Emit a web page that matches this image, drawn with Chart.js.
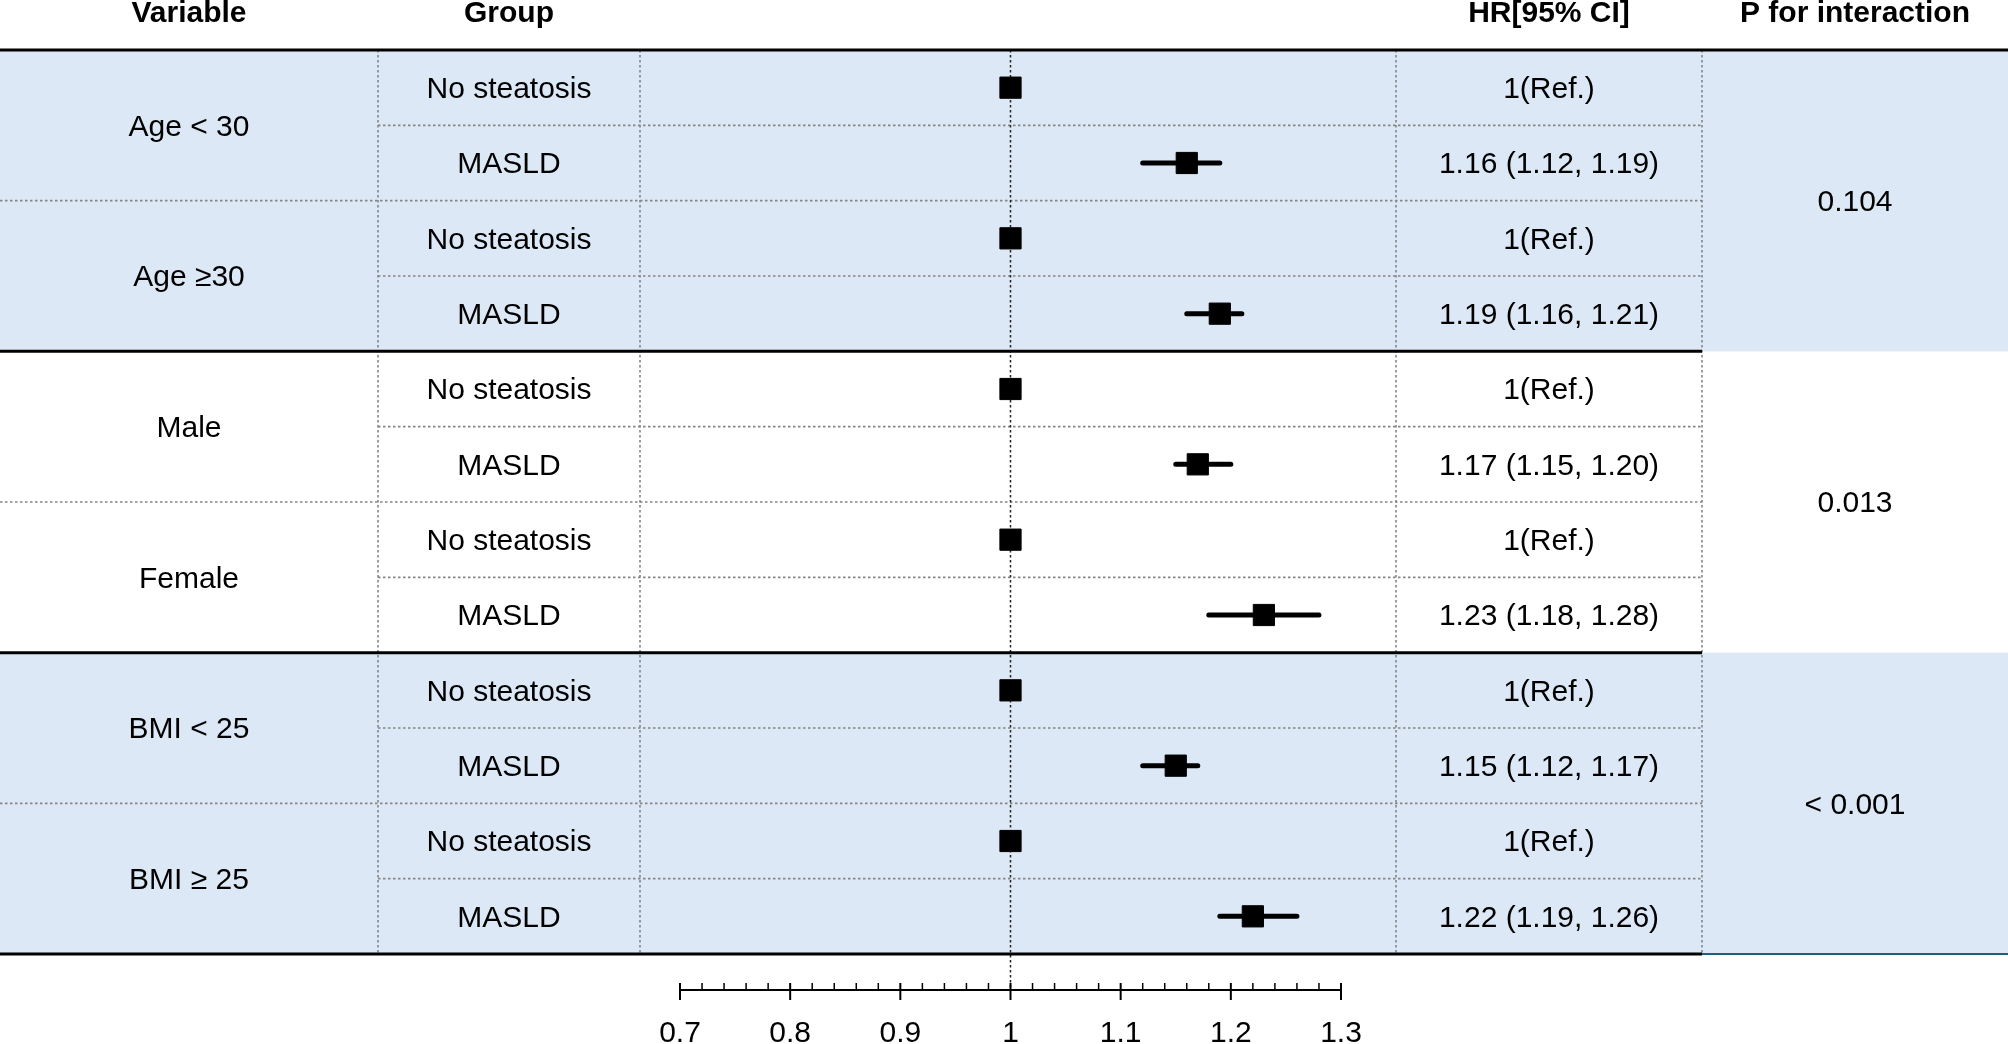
<!DOCTYPE html>
<html>
<head>
<meta charset="utf-8">
<title>Subgroup forest plot</title>
<script src="https://cdn.jsdelivr.net/npm/chart.js@4.4.1/dist/chart.umd.min.js"></script>
<style>
  html, body { margin: 0; padding: 0; background: #fff; }
  #wrap { width: 2008px; height: 1044px; }
</style>
</head>
<body>
<div id="wrap"><canvas id="forest" width="2008" height="1044"></canvas></div>
<script>
// table / chart data
const headers = ['Variable', 'Group', 'HR[95% CI]', 'P for interaction'];
const variables = ['Age < 30', 'Age \u226530', 'Male', 'Female', 'BMI < 25', 'BMI \u2265 25'];
const groups = ['No steatosis', 'MASLD'];
const hrValues = [1, 1.16, 1, 1.19, 1, 1.17, 1, 1.23, 1, 1.15, 1, 1.22];
const ciLower = [null, 1.12, null, 1.16, null, 1.15, null, 1.18, null, 1.12, null, 1.19];
const ciUpper = [null, 1.19, null, 1.21, null, 1.20, null, 1.28, null, 1.17, null, 1.26];
const pInteraction = ['0.104', '0.013', '< 0.001'];
const xTicks = [0.7, 0.8, 0.9, 1, 1.1, 1.2, 1.3];
const xTickLabels = ['0.7', '0.8', '0.9', '1', '1.1', '1.2', '1.3'];

// layout (pixels)
const W = 2008, H = 1044;
const colEdges = [0, 378, 640, 1396, 1702, W];
const axisY = 990;
const FONT = "'Liberation Sans', Arial, sans-serif";
const BLUE = '#dce8f5';
const TEXT_DY = 2;

const rowCount = hrValues.length;
const hrLabels = hrValues.map((v, i) =>
  ciLower[i] === null ? '1(Ref.)' : v.toFixed(2) + ' (' + ciLower[i].toFixed(2) + ', ' + ciUpper[i].toFixed(2) + ')');

const pointData = hrValues.map((v, i) => ({ x: v, y: i }));
const ciData = [];
hrValues.forEach((v, i) => {
  if (ciLower[i] === null) return;
  ciData.push({ x: ciLower[i], y: i }, { x: ciUpper[i], y: i }, { x: null, y: null });
});

function dotted(ctx, x1, y1, x2, y2, color, width, dash) {
  ctx.save();
  ctx.strokeStyle = color;
  ctx.lineWidth = width;
  ctx.setLineDash(dash);
  ctx.beginPath();
  ctx.moveTo(x1, y1);
  ctx.lineTo(x2, y2);
  ctx.stroke();
  ctx.restore();
}

function solid(ctx, x1, y1, x2, y2, color, width) {
  dotted(ctx, x1, y1, x2, y2, color, width, []);
}

const tablePlugin = {
  id: 'forestTable',
  beforeDatasetsDraw(chart) {
    const ctx = chart.ctx;
    const xs = chart.scales.x, ys = chart.scales.y;
    const rowTop = i => ys.getPixelForValue(i - 0.5);

    ctx.save();
    ctx.fillStyle = '#fff';
    ctx.fillRect(0, 0, W, H);

    // shaded blocks (first and last variable pairs)
    for (let b = 0; b < 3; b++) {
      if (b === 1) continue;
      ctx.fillStyle = BLUE;
      ctx.fillRect(0, rowTop(b * 4), W, rowTop(b * 4 + 4) - rowTop(b * 4));
    }

    // dotted row separators
    const grey = '#858585';
    for (let i = 1; i < rowCount; i++) {
      if (i % 4 === 0) continue;
      const x0 = i % 2 === 0 ? 0 : colEdges[1];
      dotted(ctx, x0, rowTop(i), colEdges[4], rowTop(i), grey, 1.6, [2.5, 2.5]);
    }
    // dotted column separators
    for (let c = 1; c <= 4; c++) {
      dotted(ctx, colEdges[c], rowTop(0), colEdges[c], rowTop(rowCount), grey, 1.6, [2.5, 2.5]);
    }

    // reference line at HR = 1
    const x1 = xs.getPixelForValue(1);
    dotted(ctx, x1, rowTop(0), x1, axisY, '#222', 1.5, [2.5, 2.5]);

    // thick rules
    solid(ctx, 0, rowTop(0), W, rowTop(0), '#000', 3);
    solid(ctx, 0, rowTop(4), colEdges[4], rowTop(4), '#000', 3);
    solid(ctx, 0, rowTop(8), colEdges[4], rowTop(8), '#000', 3);
    solid(ctx, 0, rowTop(12), colEdges[4], rowTop(12), '#000', 3);
    solid(ctx, colEdges[4], rowTop(12), W, rowTop(12), '#1f5f80', 2);
    ctx.restore();
  },
  afterDatasetsDraw(chart) {
    const ctx = chart.ctx;
    const xs = chart.scales.x, ys = chart.scales.y;
    const rowTop = i => ys.getPixelForValue(i - 0.5);
    const colMid = c => (colEdges[c] + colEdges[c + 1]) / 2;

    ctx.save();
    ctx.fillStyle = '#000';
    ctx.textAlign = 'center';
    ctx.textBaseline = 'middle';

    // headers
    ctx.font = 'bold 30px ' + FONT;
    ctx.fillText(headers[0], colMid(0), 14);
    ctx.fillText(headers[1], colMid(1), 14);
    ctx.fillText(headers[2], colMid(3), 14);
    ctx.fillText(headers[3], colMid(4), 14);

    ctx.font = '30px ' + FONT;
    variables.forEach((v, k) => {
      ctx.fillText(v, colMid(0), rowTop(k * 2 + 1) + TEXT_DY);
    });
    for (let i = 0; i < rowCount; i++) {
      const yc = ys.getPixelForValue(i) + TEXT_DY;
      ctx.fillText(groups[i % 2], colMid(1), yc);
      ctx.fillText(hrLabels[i], colMid(3), yc);
    }
    pInteraction.forEach((p, k) => {
      ctx.fillText(p, colMid(4), rowTop(k * 4 + 2) + TEXT_DY);
    });

    // x axis
    const left = xs.getPixelForValue(xTicks[0]);
    const right = xs.getPixelForValue(xTicks[xTicks.length - 1]);
    solid(ctx, left, axisY, right, axisY, '#000', 2);
    for (let t = 0; t < xTicks.length; t++) {
      const px = xs.getPixelForValue(xTicks[t]);
      solid(ctx, px, axisY - 7, px, axisY + 10, '#000', 2);
      ctx.fillText(xTickLabels[t], px, axisY + 44);
      if (t < xTicks.length - 1) {
        for (let m = 1; m < 5; m++) {
          const mv = xTicks[t] + (xTicks[t + 1] - xTicks[t]) * m / 5;
          const mx = xs.getPixelForValue(mv);
          solid(ctx, mx, axisY - 7, mx, axisY, '#000', 1.5);
        }
      }
    }
    ctx.restore();
  }
};

document.addEventListener('DOMContentLoaded', () => {
  const ctx = document.getElementById('forest').getContext('2d');
  new Chart(ctx, {
    type: 'scatter',
    data: {
      datasets: [
        {
          label: 'HR',
          data: pointData,
          pointStyle: 'rect',
          pointRadius: 15,
          pointBorderWidth: 1,
          backgroundColor: '#000',
          borderColor: '#000',
          order: 0
        },
        {
          label: '95% CI',
          data: ciData,
          showLine: true,
          spanGaps: false,
          pointRadius: 0,
          borderWidth: 5,
          borderColor: '#000',
          borderCapStyle: 'round',
          order: 1
        }
      ]
    },
    options: {
      responsive: false,
      animation: false,
      devicePixelRatio: 1,
      layout: { padding: { left: 680, right: W - 1341, top: 50, bottom: H - 954 } },
      scales: {
        x: { type: 'linear', min: 0.7, max: 1.3, display: false },
        y: { type: 'linear', min: -0.5, max: rowCount - 0.5, reverse: true, display: false }
      },
      plugins: { legend: { display: false }, tooltip: { enabled: false } }
    },
    plugins: [tablePlugin]
  });
});
</script>
</body>
</html>
